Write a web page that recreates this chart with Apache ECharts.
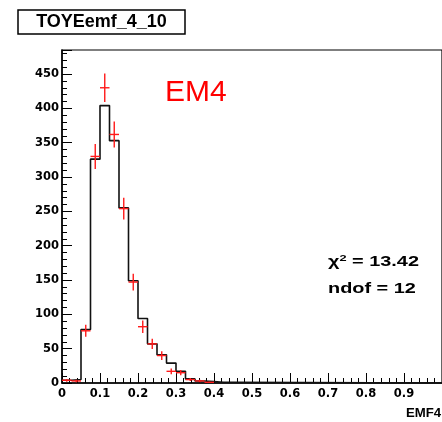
<!DOCTYPE html>
<html><head><meta charset="utf-8">
<script src="https://cdn.jsdelivr.net/npm/echarts@6/dist/echarts.min.js"></script>
<style>html,body{margin:0;padding:0;background:#fff}#c{width:442px;height:422px}</style>
</head><body><div id="c"></div>
<script>
// Histogram (model) : bin low edges and contents, bin width 0.025
var histLow = [0, 0.025, 0.05, 0.075, 0.1, 0.125, 0.15, 0.175, 0.2, 0.225, 0.25, 0.275, 0.3, 0.325, 0.35, 0.375, 0.4, 0.425, 0.45];
var histCounts = [4, 5, 78, 326, 404, 353, 255, 149, 94, 57, 41, 29, 17, 6, 3, 2, 1, 1, 0];
var histEnd = 1.0;
// Data points (red) : bin centres and contents
var dataX = [0.0125, 0.0375, 0.0625, 0.0875, 0.1125, 0.1375, 0.1625, 0.1875, 0.2125, 0.2375, 0.2625, 0.2875, 0.3125, 0.3375, 0.3625, 0.3875];
var dataY = [4, 3, 76, 330, 430, 362, 254, 147, 82, 57, 40, 17, 15, 5, 3, 1];
var binHalf = 0.0125;
var xTickLabels = ['0', '0.1', '0.2', '0.3', '0.4', '0.5', '0.6', '0.7', '0.8', '0.9', '1'];

var histData = histLow.map(function (x, i) { return [x, histCounts[i]]; });
histData.push([histEnd, histCounts[histCounts.length - 1]]);
var ptData = dataX.map(function (x, i) { return [x, dataY[i]]; });

var chart = echarts.init(document.getElementById('c'), null, {renderer: 'canvas'});
var lblFont = {fontFamily: 'DejaVu Sans', fontWeight: 'bold', fontSize: 11.5, color: '#000'};
chart.setOption({
  animation: false,
  backgroundColor: '#fff',
  grid: {left: 62, top: 50, right: -4, bottom: 39, show: true, borderColor: '#000', borderWidth: 1.2, containLabel: false},
  xAxis: {
    type: 'value', min: 0, max: 1, interval: 0.1,
    axisLine: {show: true, onZero: false, lineStyle: {color: '#000', width: 1.5}},
    axisTick: {show: true, inside: true, length: 10, lineStyle: {color: '#000', width: 1}},
    minorTick: {show: true, splitNumber: 5, length: 5, lineStyle: {color: '#000', width: 1}},
    splitLine: {show: false},
    axisLabel: Object.assign({margin: 5, showMaxLabel: false, formatter: function (v) {
      var k = Math.round(v * 10); return xTickLabels[k] !== undefined ? xTickLabels[k] : '';
    }}, lblFont)
  },
  yAxis: {
    type: 'value', min: 0, max: 485, interval: 50,
    axisLine: {show: true, lineStyle: {color: '#000', width: 1.5}},
    axisTick: {show: true, inside: true, length: 10, lineStyle: {color: '#000', width: 1}},
    minorTick: {show: true, splitNumber: 5, length: 5, lineStyle: {color: '#000', width: 1}},
    splitLine: {show: false},
    axisLabel: Object.assign({margin: 3, formatter: function (v) { return (v % 50 === 0) ? String(v) : ''; }}, lblFont)
  },
  series: [
    {
      type: 'line', step: 'end', data: histData, showSymbol: false, symbol: 'none',
      lineStyle: {color: '#111', width: 1.6}, z: 3
    },
    {
      type: 'custom', data: ptData, z: 4,
      renderItem: function (params, api) {
        var x = api.value(0), y = api.value(1), e = Math.sqrt(y);
        var lo = api.coord([x, Math.max(0, y - e)]);
        var hi = api.coord([x, y + e]);
        var l = api.coord([x - binHalf, y]);
        var r = api.coord([x + binHalf, y]);
        var st = {stroke: '#ff1a1a', lineWidth: 1.4};
        return {type: 'group', children: [
          {type: 'line', shape: {x1: lo[0], y1: lo[1], x2: hi[0], y2: hi[1]}, style: st},
          {type: 'line', shape: {x1: l[0], y1: l[1], x2: r[0], y2: r[1]}, style: st}
        ]};
      }
    }
  ],
  graphic: [
    {type: 'rect', shape: {x: 18, y: 10, width: 167, height: 24}, style: {fill: '#fff', stroke: '#000', lineWidth: 1.5}},
    {type: 'text', x: 101.5, y: 22.5, style: {text: 'TOYEemf_4_10', fontFamily: 'Liberation Sans', fontWeight: 'bold', fontSize: 18, fill: '#000', textAlign: 'center', textVerticalAlign: 'middle'}},
    {type: 'text', x: 165, y: 92.5, style: {text: 'EM4', fontFamily: 'Liberation Sans', fontSize: 30, fill: '#ff0000', textAlign: 'left', textVerticalAlign: 'middle'}},
    {type: 'text', x: 328, y: 262, scaleX: 1.42, style: {
      text: '{a|χ}{s|2}{a| = 13.42}', textVerticalAlign: 'middle',
      rich: {a: {fontFamily: 'Liberation Sans', fontWeight: 'bold', fontSize: 14, fill: '#000'},
             s: {fontFamily: 'Liberation Sans', fontWeight: 'bold', fontSize: 9, fill: '#000', verticalAlign: 'top', padding: [0, 0, 6, 0]}}
    }},
    {type: 'text', x: 328, y: 289, scaleX: 1.42, style: {text: 'ndof = 12', fontFamily: 'Liberation Sans', fontWeight: 'bold', fontSize: 14, fill: '#000', textVerticalAlign: 'middle'}},
    {type: 'text', x: 406, y: 413.5, scaleX: 1.1, style: {text: 'EMF4', fontFamily: 'Liberation Sans', fontWeight: 'bold', fontSize: 12, fill: '#000', textVerticalAlign: 'middle'}}
  ]
});
</script></body></html>
